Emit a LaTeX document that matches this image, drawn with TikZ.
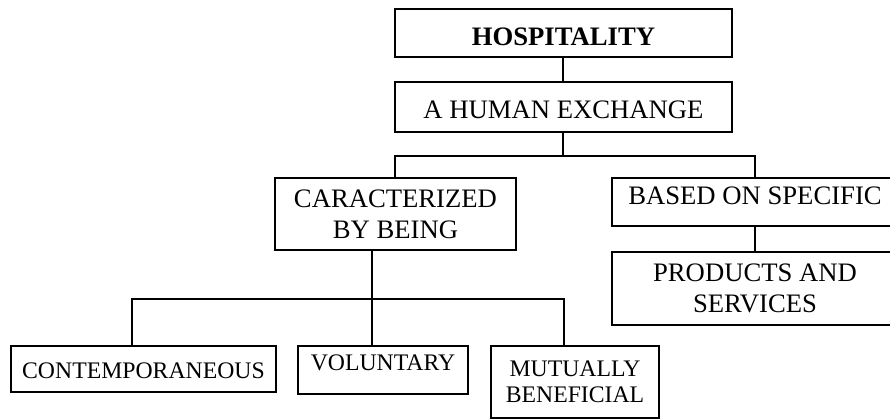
\documentclass[tikz,border=0pt]{standalone}
\usepackage{fontspec}
\setmainfont{Liberation Serif}
\usetikzlibrary{positioning}

\begin{document}
\begin{tikzpicture}[
  node distance=17.25pt,
  box/.style={rectangle, draw, line width=1.5pt, inner sep=0pt, align=center, font=\fontsize{20}{23}\selectfont},
  smallbox/.style={box, font=\fontsize{17.8}{19.5}\selectfont},
  link/.style={line width=1.5pt},
]
\useasboundingbox (0,0) rectangle (667.5pt,-314.25pt);

\node[box, minimum width=252.75pt, text height=27pt, text depth=9pt, font=\fontsize{20}{23}\selectfont\bfseries] (hosp) at (422.6pt,-24.75pt) {HOSPITALITY};
\node[box, minimum width=252.75pt, text height=27pt, text depth=10.5pt, below=of hosp] (exch) {A HUMAN EXCHANGE};
\node[box, minimum width=180.75pt, minimum height=54pt, anchor=north] (charac) at (296.6pt,-132.75pt) {CARACTERIZED\\BY BEING};
\node[box, minimum width=214.5pt, text height=19.5pt, text depth=16.5pt, anchor=north] (based) at (566.25pt,-132.75pt) {BASED ON SPECIFIC};
\node[box, minimum width=214.5pt, minimum height=54.75pt, below=18pt of based] (prod) {PRODUCTS AND\\SERVICES};

\node[smallbox, minimum width=198.75pt, text height=24pt, text depth=10.5pt, anchor=north] (contemp) at (107.6pt,-258.75pt) {CONTEMPORANEOUS};
\node[smallbox, minimum width=127.5pt, text height=18pt, text depth=18pt, anchor=north] (volunt) at (287.25pt,-258.75pt) {VOLUNTARY};
\node[smallbox, minimum width=126pt, minimum height=54pt, anchor=north] (mutual) at (431.25pt,-258.75pt) {MUTUALLY\\BENEFICIAL};

\coordinate (bar1) at ([yshift=-17.25pt]exch.south);
\coordinate (bar2) at ([xshift=-17.6pt,yshift=-36pt]charac.south);

\draw[link] (hosp) -- (exch);
\draw[link] (exch) -- (bar1);
\draw[link] (charac) |- (bar1) -| (based);
\draw[link] (based) -- (prod);
\draw[link] (bar2 |- charac.south) -- (bar2 |- volunt.north);
\draw[link] ([xshift=-8.6pt]contemp.north) |- (bar2) -| ([xshift=-8.25pt]mutual.north);
\end{tikzpicture}
\end{document}
